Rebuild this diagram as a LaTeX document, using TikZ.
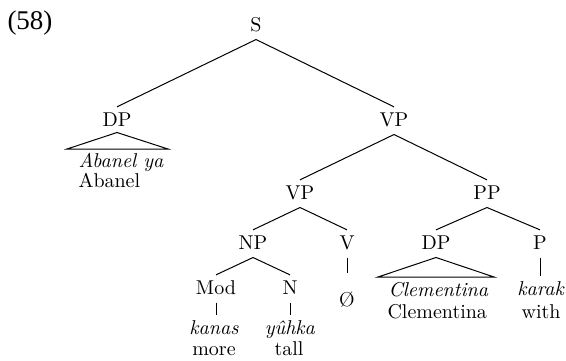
\documentclass[tikz,border=0pt]{standalone}
\usepackage{fontspec}
\newfontfamily\exfont{Liberation Serif}
\begin{document}
\begin{tikzpicture}[x=0.5pt,y=-0.5pt,
  cat/.style={inner xsep=1pt, inner ysep=2.5pt, text height=6.83pt, text depth=1.5pt, anchor=base},
  wrd/.style={inner sep=0pt, anchor=base},
  every path/.style={line width=0.5pt}]
\useasboundingbox (0,0) rectangle (566,360);
\node[wrd, anchor=base west, font=\exfont\fontsize{13.5}{16}\selectfont] (num) at (7,29) {(58)};
\node[cat] (S) at (256,31) {S};
\node[cat] (DP1) at (117,126) {DP};
\node[cat] (VP1) at (394,126) {VP};
\node[cat] (VP2) at (300,199) {VP};
\node[cat] (PP) at (487,199) {PP};
\node[cat] (NP) at (253,249) {NP};
\node[cat] (V) at (347,249) {V};
\node[cat] (DP2) at (436,249) {DP};
\node[cat] (P) at (540,249) {P};
\node[cat] (Mod) at (216,294) {Mod};
\node[cat] (N) at (290,294) {N};
\node[cat] (Z) at (347,306) {Ø};
\node[wrd, anchor=base west] (ab1) at (78,167) {\textit{Abanel ya}};
\node[wrd, anchor=base west] (ab2) at (78,187) {Abanel};
\node[wrd, anchor=base west] (cl1) at (388,296) {\textit{Clementina}};
\node[wrd, anchor=base west] (cl2) at (387,318) {Clementina};
\node[cat] (karak) at (541,295) {\textit{karak}};
\node[wrd] (with) at (541,318) {with};
\node[cat] (kanas) at (214,334) {\textit{kanas}};
\node[wrd] (more) at (214,355) {more};
\node[cat] (yuhka) at (290,334) {\textit{yûhka}};
\node[wrd] (tall) at (289,355) {tall};
% branches
\draw (S.south) -- (DP1.north);
\draw (S.south) -- (VP1.north);
\draw (VP1.south) -- (VP2.north);
\draw (VP1.south) -- (PP.north);
\draw (VP2.south) -- (NP.north);
\draw (VP2.south) -- (V.north);
\draw (PP.south) -- (DP2.north);
\draw (PP.south) -- (P.north);
\draw (NP.south) -- (Mod.north);
\draw (NP.south) -- (N.north);
\draw (V.south) -- ([yshift=7pt]Z.north);
\draw (Mod.south) -- (Mod.south |- kanas.north);
\draw (N.south) -- (N.south |- yuhka.north);
\draw (P.south) -- (P.south |- karak.north);
% triangles
\coordinate (t1l) at (67,149);
\coordinate (t1r) at (168,149);
\draw ([yshift=1pt]DP1.south) -- (t1l) -- (t1r) -- cycle;
\coordinate (t2l) at (378,277);
\coordinate (t2r) at (494,277);
\draw (DP2.south) -- (t2l) -- (t2r) -- cycle;
\end{tikzpicture}
\end{document}
